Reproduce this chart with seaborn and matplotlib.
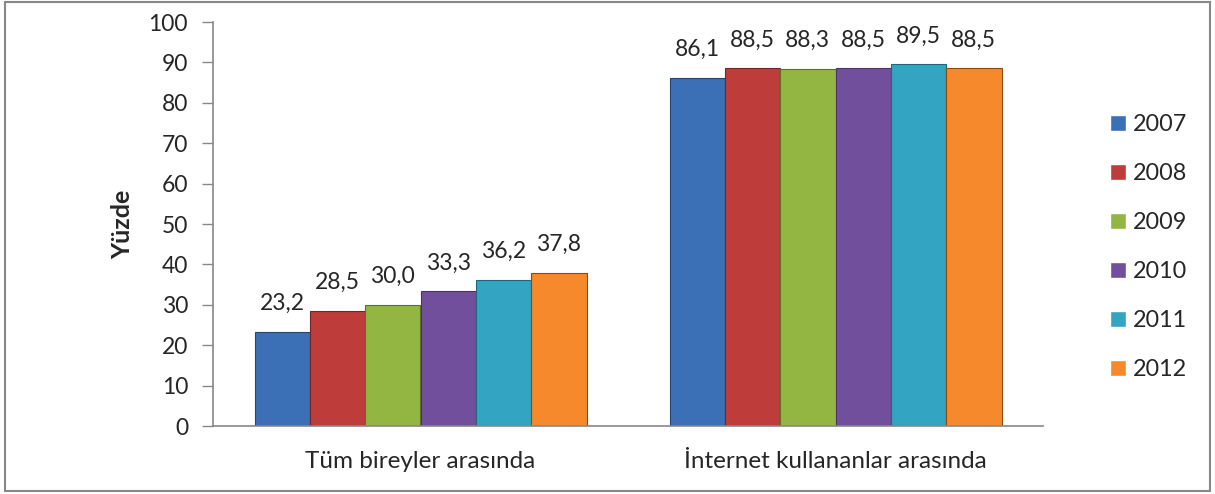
import pandas as pd
import matplotlib.pyplot as plt
import seaborn as sns
from matplotlib.patches import Rectangle

sns.set_theme(style="white")
plt.rcParams['font.family'] = ['Lato', 'DejaVu Sans']

categories = ['Tüm bireyler arasında', 'İnternet kullananlar arasında']
years = ['2007', '2008', '2009', '2010', '2011', '2012']
all_people = [23.2, 28.5, 30.0, 33.3, 36.2, 37.8]
internet_users = [86.1, 88.5, 88.3, 88.5, 89.5, 88.5]
colors = ['#3B6FB6', '#BE3C3A', '#93B541', '#724F9C', '#33A5C2', '#F5892B']

rows = []
for y, a, b in zip(years, all_people, internet_users):
    rows.append({'cat': categories[0], 'year': y, 'val': a})
    rows.append({'cat': categories[1], 'year': y, 'val': b})
df = pd.DataFrame(rows)

fig = plt.figure(figsize=(12.15, 4.94), dpi=100)
ax = fig.add_axes([213 / 1215, 1 - 426 / 494, (1043 - 213) / 1215, (426 - 22) / 494])

sns.barplot(data=df, x='cat', y='val', hue='year', order=categories, hue_order=years,
            palette=dict(zip(years, colors)), width=0.8, ax=ax, saturation=1)

for cont, c in zip(ax.containers, colors):
    for p in cont:
        p.set_edgecolor(sns.set_hls_values(c, l=0.3))
        p.set_linewidth(0.8)
    labels = [f"{p.get_height():.1f}".replace('.', ',') for p in cont]
    ax.bar_label(cont, labels=labels, padding=13, fontsize=16.5)

ax.set_ylim(0, 100)
ax.set_xlim(-0.5, 1.5)
ax.set_yticks(range(0, 101, 10))
ax.set_xlabel('')
ax.set_ylabel('Yüzde', fontsize=18, fontweight='bold', labelpad=10)
ax.tick_params(axis='y', left=True, length=8, width=1, color='#888888', pad=10, labelsize=16.5)
ax.tick_params(axis='x', bottom=False, pad=12, labelsize=17.5)
for s in ['top', 'right']:
    ax.spines[s].set_visible(False)
for s in ['left', 'bottom']:
    ax.spines[s].set_color('#888888')
    ax.spines[s].set_linewidth(1.2)

handles, labs = ax.get_legend_handles_labels()
ax.get_legend().remove()
fig.legend(handles, labs, loc='center left', bbox_to_anchor=(1089 / 1215, 0.5),
           frameon=False, fontsize=16.8, handlelength=0.7, handleheight=0.7,
           handletextpad=0.3, labelspacing=1.2)

fig.patches.append(Rectangle((0.004, 0.006), 0.992, 0.99, transform=fig.transFigure,
                             fill=False, edgecolor='#888888', linewidth=1.5))

fig.savefig('out.png', dpi=100)
